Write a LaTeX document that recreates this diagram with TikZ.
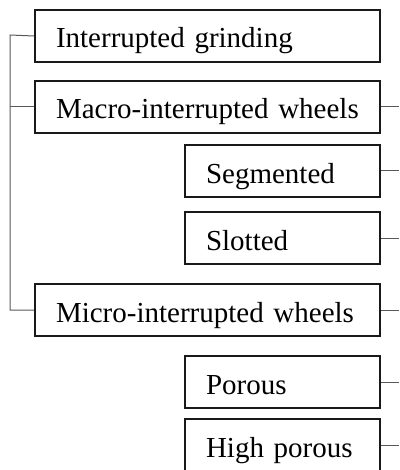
\documentclass[tikz,border=0pt]{standalone}
\usepackage{fontspec}
\setmainfont{Liberation Serif}
\begin{document}
\begin{tikzpicture}[x=1pt,y=-1pt,
  box/.style={draw=black!90, line width=2pt, inner xsep=21pt, inner ysep=0pt,
    text height=38pt, text depth=14pt, align=left, anchor=north west,
    font=\fontsize{29}{32}\selectfont},
  wide/.style={box, text width=303pt},
  narrow/.style={box, text width=153pt},
  conn/.style={draw=black!65, line width=1pt}]
\useasboundingbox (0,0) rectangle (399,470);
\node[wide]   (b1) at (34,9)   {Interrupted grinding};
\node[wide]   (b2) at (34,80)  {Macro-interrupted wheels};
\node[narrow] (b3) at (184,144) {Segmented};
\node[narrow] (b4) at (184,211) {Slotted};
\node[wide]   (b5) at (34,283) {Micro-interrupted wheels};
\node[narrow] (b6) at (184,355) {Porous};
\node[narrow] (b7) at (184,418) {High porous};
\coordinate (t1) at (10,35);
\draw[conn] (b1.west) -- (t1) |- (b5.west);
\draw[conn] (b2.west) -- (b2.west -| t1);
\foreach \n in {b2,b3,b4,b5,b6,b7}{
  \coordinate (r\n) at (\n.east -| 399,0);
  \draw[conn] (\n.east) -- (r\n);
}
\end{tikzpicture}
\end{document}
